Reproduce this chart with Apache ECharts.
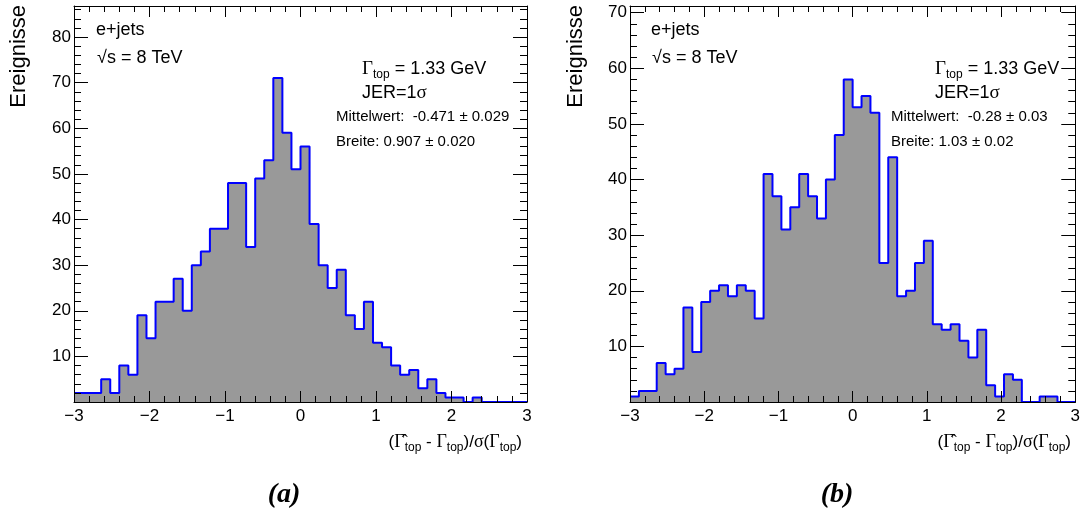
<!DOCTYPE html>
<html><head><meta charset="utf-8">
<script src="https://cdn.jsdelivr.net/npm/echarts@6/dist/echarts.min.js"></script>
<style>html,body{margin:0;padding:0;background:#fff}#c{width:1083px;height:516px}</style>
</head><body><div id="c"></div>
<script>
// ---- data ----
const binStart = -3;
const binWidth = 0.12;
const countsA = [2,2,2,5,2,8,6,19,14,22,22,27,20,30,33,38,38,48,48,34,49,53,71,59,51,56,39,30,25,29,19,16,22,13,12,8,6,7,3,5,2,1,1,0,1,0,0,0,0,0];
const countsB = [1,2,2,7,5,6,17,9,18,20,21,19,21,20,15,41,37,31,35,41,37,33,40,48,58,53,55,52,25,44,19,20,25,29,14,13,14,11,8,13,3,1,5,4,0,0,1,1,0,0];
const xMin = -3, xMax = 3;
const yMaxA = 86.8, yMaxB = 71.2;
const yLabel = 'Ereignisse';
const infoA = {mean: '-0.471 \u00b1 0.029', width: '0.907 \u00b1 0.020'};
const infoB = {mean: '-0.28 \u00b1 0.03', width: '1.03 \u00b1 0.02'};

function stepData(counts) {
  const d = counts.map((v, i) => [+(binStart + i * binWidth).toFixed(3), v]);
  d.push([+(binStart + counts.length * binWidth).toFixed(3), counts[counts.length - 1]]);
  return d;
}

const SANS = 'Liberation Sans';
const black = '#000';
const grids = [
  {left: 74, top: 6, width: 453, height: 396},
  {left: 630, top: 6, width: 451, height: 396}
];

const xAxes = [], yAxes = [];
[yMaxA, yMaxB].forEach((ymax, g) => {
  const xBase = {
    type: 'value', gridIndex: g, min: xMin, max: xMax, interval: 1, z: 10,
    axisLine: {show: true, onZero: false, lineStyle: {color: black, width: 1}},
    axisTick: {show: true, inside: true, length: 11, lineStyle: {color: black, width: 1}},
    minorTick: {show: true, splitNumber: 5, length: 6, lineStyle: {color: black, width: 1}},
    splitLine: {show: false}, minorSplitLine: {show: false}
  };
  xAxes.push(Object.assign({}, xBase, {
    position: 'bottom',
    axisLabel: {show: true, fontFamily: SANS, fontSize: 17, color: black, margin: 6,
      formatter: v => (v < 0 ? '\u2212' + Math.abs(v) : String(v))}
  }));
  xAxes.push(Object.assign({}, xBase, {position: 'top', axisLabel: {show: false}}));

  const yBase = {
    type: 'value', gridIndex: g, min: 0, max: ymax, z: 10,
    splitLine: {show: false}
  };
  yAxes.push(Object.assign({}, yBase, {
    position: 'left', interval: 10,
    axisLine: {show: true, onZero: false, lineStyle: {color: black, width: 1}},
    axisTick: {show: true, inside: true, length: 14, lineStyle: {color: black, width: 1}},
    axisLabel: {show: true, fontFamily: SANS, fontSize: 17, color: black, margin: 3,
      formatter: v => (v > 0 && Math.abs(v % 10) < 1e-6 ? String(v) : '')}
  }));
  yAxes.push(Object.assign({}, yBase, {
    position: 'left', interval: 2,
    axisLine: {show: false, onZero: false},
    axisTick: {show: true, inside: true, length: 7, lineStyle: {color: black, width: 1}},
    axisLabel: {show: false}
  }));
  yAxes.push(Object.assign({}, yBase, {
    position: 'right', interval: 10,
    axisLine: {show: true, onZero: false, lineStyle: {color: black, width: 1}},
    axisTick: {show: true, inside: true, length: 14, lineStyle: {color: black, width: 1}},
    axisLabel: {show: false}
  }));
  yAxes.push(Object.assign({}, yBase, {
    position: 'right', interval: 2,
    axisLine: {show: false, onZero: false},
    axisTick: {show: true, inside: true, length: 7, lineStyle: {color: black, width: 1}},
    axisLabel: {show: false}
  }));
});

const series = [countsA, countsB].map((counts, g) => ({
  type: 'line', xAxisIndex: g * 2, yAxisIndex: g * 4,
  data: stepData(counts), step: 'end', symbol: 'none', z: 2,
  lineStyle: {color: '#0000ff', width: 2},
  areaStyle: {color: '#999999', opacity: 1},
  silent: true, animation: false
}));

const rich = {
  n: {fontFamily: SANS, fontSize: 18, lineHeight: 24, verticalAlign: 'middle', fill: black},
  g: {fontFamily: 'Liberation Serif', fontSize: 19, lineHeight: 24, verticalAlign: 'middle', fill: black},
  s: {fontFamily: SANS, fontSize: 12, lineHeight: 8, verticalAlign: 'bottom', fill: black},
  m: {fontFamily: SANS, fontSize: 15, lineHeight: 18, verticalAlign: 'middle', fill: black}
};
const richT = {
  n: {fontFamily: SANS, fontSize: 17, lineHeight: 24, verticalAlign: 'middle', fill: black},
  g: {fontFamily: 'Liberation Serif', fontSize: 18, lineHeight: 24, verticalAlign: 'middle', fill: black},
  s: {fontFamily: SANS, fontSize: 12, lineHeight: 6, verticalAlign: 'bottom', fill: black}
};

function txt(x, y, text, opts) {
  return Object.assign({
    type: 'text', x: x, y: y, z: 20,
    style: Object.assign({text: text, rich: rich, fill: black, align: 'left', verticalAlign: 'middle',
      font: '18px "Liberation Sans"'}, (opts && opts.style) || {})
  }, (opts && opts.el) || {});
}

const graphics = [];
[[0, 96, 362, 336, infoA, 19, 284, 522, '(a)'], [1, 651, 935, 891, infoB, 576, 837, 1071, '(b)']].forEach(r => {
  const [g, xl, xg, xm, info, xy, xc, xt, cap] = r;
  graphics.push(txt(xl, 30, 'e+jets', {style: {font: '18px "Liberation Sans"'}}));
  graphics.push(txt(xl + 1, 58, '\u221as = 8 TeV', {style: {font: '18px "Liberation Sans"'}}));
  graphics.push(txt(xg, 57, '{g|\u0393}{s|top}{n| = 1.33 GeV}', {style: {verticalAlign: 'top'}}));
  graphics.push(txt(xg, 93, '{n|JER=1}{g|\u03c3}', {}));
  graphics.push(txt(xm, 117, '{m|Mittelwert:  ' + info.mean + '}', {}));
  graphics.push(txt(xm, 142, '{m|Breite: ' + info.width + '}', {}));
  graphics.push({
    type: 'text', x: xt, y: 430, z: 20,
    style: {text: '{n|(}{g|\u0393\u0302}{s|top}{n| - }{g|\u0393}{s|top}{n|)/}{g|\u03c3}{n|(}{g|\u0393}{s|top}{n|)}',
      rich: richT, align: 'right', verticalAlign: 'top', fill: black}
  });
  graphics.push({
    type: 'text', x: xy, y: 5, rotation: Math.PI / 2, z: 20,
    style: {text: yLabel, font: '22px "Liberation Sans"', fill: black, align: 'right', verticalAlign: 'middle'}
  });
  graphics.push({
    type: 'text', x: xc, y: 495, z: 20,
    style: {text: cap, font: 'italic bold 28px "Liberation Serif"', fill: black, align: 'center', verticalAlign: 'middle'}
  });
});

const chart = echarts.init(document.getElementById('c'), null, {renderer: 'canvas'});
chart.setOption({
  animation: false,
  backgroundColor: '#fff',
  grid: grids.map(g => Object.assign({containLabel: false, show: false}, g)),
  xAxis: xAxes,
  yAxis: yAxes,
  series: series,
  graphic: graphics
});
</script>
</body></html>
